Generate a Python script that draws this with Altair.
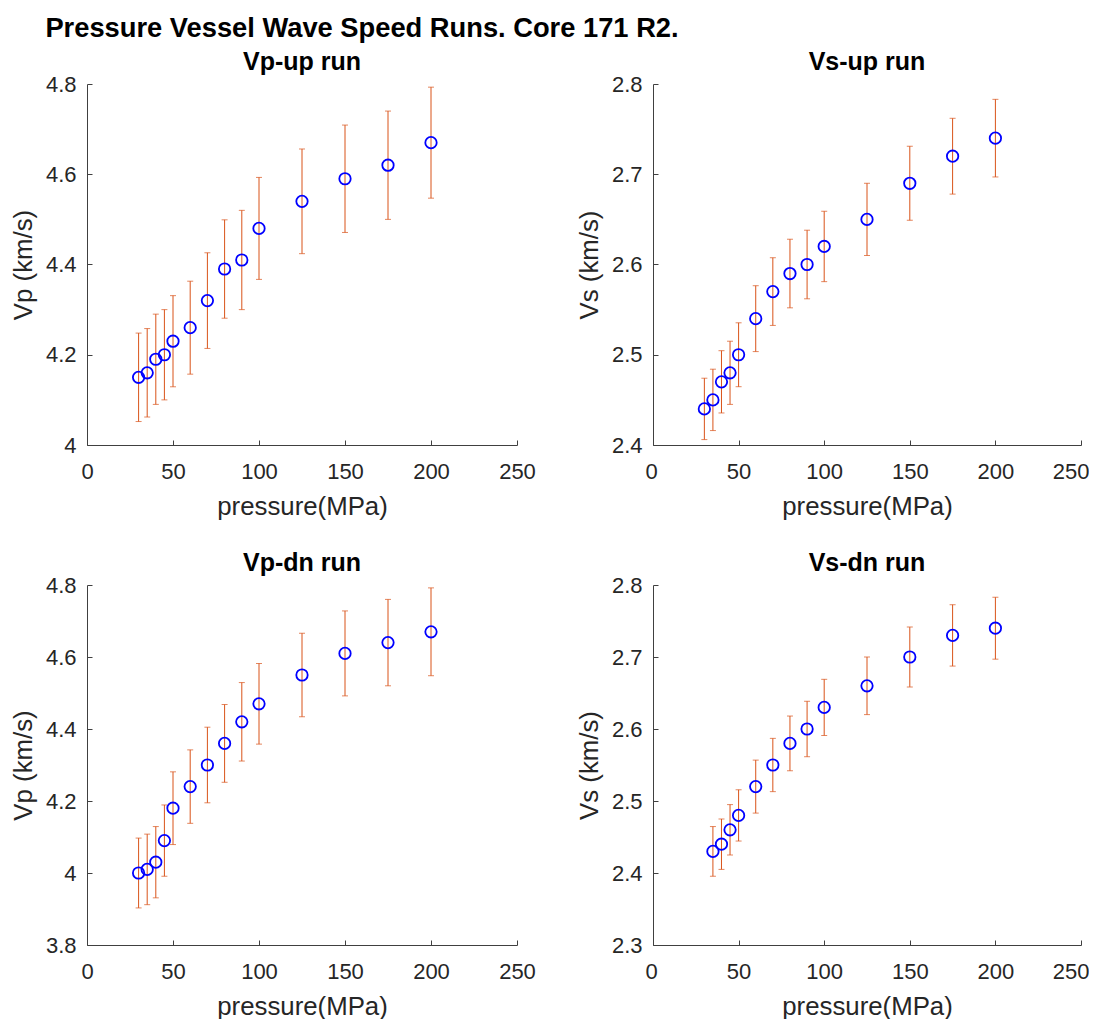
import altair as alt
import pandas as pd

# ---- data ----
P_VP = [30, 35, 40, 45, 50, 60, 70, 80, 90, 100, 125, 150, 175, 200]
P_VS_DN = [35, 40, 45, 50, 60, 70, 80, 90, 100, 125, 150, 175, 200]

VP_UP = [4.15, 4.16, 4.19, 4.20, 4.23, 4.26, 4.32, 4.39, 4.41, 4.48, 4.54, 4.59, 4.62, 4.67]
VP_UP_ERR = [0.098, 0.098, 0.100, 0.100, 0.101, 0.103, 0.106, 0.109, 0.110, 0.113, 0.116, 0.119, 0.120, 0.123]

VS_UP = [2.44, 2.45, 2.47, 2.48, 2.50, 2.54, 2.57, 2.59, 2.60, 2.62, 2.65, 2.69, 2.72, 2.74]
VS_UP_ERR = [0.034, 0.034, 0.0345, 0.035, 0.0354, 0.0365, 0.0375, 0.038, 0.038, 0.039, 0.040, 0.041, 0.042, 0.043]

VP_DN = [4.00, 4.01, 4.03, 4.09, 4.18, 4.24, 4.30, 4.36, 4.42, 4.47, 4.55, 4.61, 4.64, 4.67]
VP_DN_ERR = [0.097, 0.098, 0.099, 0.099, 0.101, 0.102, 0.105, 0.108, 0.109, 0.112, 0.116, 0.118, 0.120, 0.122]

VS_DN = [2.43, 2.44, 2.46, 2.48, 2.52, 2.55, 2.58, 2.60, 2.63, 2.66, 2.70, 2.73, 2.74]
VS_DN_ERR = [0.0345, 0.035, 0.035, 0.0356, 0.0368, 0.037, 0.038, 0.0385, 0.039, 0.040, 0.0415, 0.0426, 0.043]

X_TICKS = [0, 50, 100, 150, 200, 250]
VP_UP_TICKS = [4.0, 4.2, 4.4, 4.6, 4.8]
VS_UP_TICKS = [2.4, 2.5, 2.6, 2.7, 2.8]
VP_DN_TICKS = [3.8, 4.0, 4.2, 4.4, 4.6, 4.8]
VS_DN_TICKS = [2.3, 2.4, 2.5, 2.6, 2.7, 2.8]

MAIN_TITLE = "Pressure Vessel Wave Speed Runs. Core 171 R2."

FONT = "Liberation Sans"
AX = "#262626"
AXLINE = "#404040"
ORANGE = "#D95319"
BLUE = "#0000FF"


def panel(p, v, err, title, ytitle, ydom, yticks, w, h, right_col=False):
    df = pd.DataFrame({"p": p, "v": v, "err": err})
    df["lo"] = df["v"] - df["err"]
    df["hi"] = df["v"] + df["err"]
    base = alt.Chart(df)
    xs = alt.Scale(domain=[0, 250], nice=False, zero=False)
    ys = alt.Scale(domain=ydom, nice=False, zero=False)

    # error bars, carrying inward-pointing tick axes
    rules = base.mark_rule(color=ORANGE, strokeWidth=1).encode(
        x=alt.X("p:Q", scale=xs,
                axis=alt.Axis(orient="top", offset=-h, values=X_TICKS, labels=False,
                              domain=False, ticks=True, tickSize=5, tickColor=AXLINE,
                              tickWidth=1, title=None, grid=False)),
        y=alt.Y("lo:Q", scale=ys,
                axis=alt.Axis(orient="right", offset=-w, values=yticks, labels=False,
                              domain=False, ticks=True, tickSize=5, tickColor=AXLINE,
                              tickWidth=1, title=None, grid=False)),
        y2="hi:Q",
    )
    cap_lo = base.mark_tick(color=ORANGE, orient="horizontal", size=6, thickness=1).encode(
        x=alt.X("p:Q", scale=xs, axis=None), y=alt.Y("lo:Q", scale=ys, axis=None))
    cap_hi = base.mark_tick(color=ORANGE, orient="horizontal", size=6, thickness=1).encode(
        x=alt.X("p:Q", scale=xs, axis=None), y=alt.Y("hi:Q", scale=ys, axis=None))
    flush = dict(labelFlush=True, labelFlushOffset=8) if right_col else dict(labelFlush=False)
    pts = base.mark_point(filled=False, color=BLUE, strokeWidth=1.8, size=130, opacity=1).encode(
        x=alt.X("p:Q", scale=xs,
                axis=alt.Axis(orient="bottom", values=X_TICKS, ticks=False, tickSize=0,
                              labelPadding=16, title="pressure(MPa)",
                              titlePadding=12, format="~r", labelOverlap=False, grid=False,
                              **flush)),
        y=alt.Y("v:Q", scale=ys,
                axis=alt.Axis(orient="left", values=yticks, ticks=False, tickSize=0,
                              labelPadding=11, title=ytitle, titlePadding=9,
                              format="~r", labelOverlap=False, grid=False)),
    )
    return alt.layer(rules, cap_lo, cap_hi, pts).resolve_axis(
        x="independent", y="independent"
    ).properties(
        width=w, height=h,
        title=alt.TitleParams(title, fontSize=25, font=FONT, fontWeight="bold",
                              color="black", anchor="middle", frame="group", offset=-2),
    )


c1 = panel(P_VP, VP_UP, VP_UP_ERR, "Vp-up run", "Vp (km/s)", [4.0, 4.8], VP_UP_TICKS, 430, 361)
c2 = panel(P_VP, VS_UP, VS_UP_ERR, "Vs-up run", "Vs (km/s)", [2.4, 2.8], VS_UP_TICKS, 428, 361, True)
c3 = panel(P_VP, VP_DN, VP_DN_ERR, "Vp-dn run", "Vp (km/s)", [3.8, 4.8], VP_DN_TICKS, 430, 360)
c4 = panel(P_VS_DN, VS_DN, VS_DN_ERR, "Vs-dn run", "Vs (km/s)", [2.3, 2.8], VS_DN_TICKS, 428, 360, True)

chart = alt.concat(
    c1, c2, c3, c4, columns=2, spacing={"row": 140, "column": 136}, bounds="flush"
).properties(
    title=alt.TitleParams(MAIN_TITLE, fontSize=27.3, font=FONT, fontWeight="bold",
                          color="black", anchor="start", dx=35, offset=8),
    padding={"left": 2, "top": 6, "right": 0, "bottom": 0},
).configure_view(stroke=None).configure_axis(
    labelFont=FONT, titleFont=FONT, labelFontSize=22, titleFontSize=25.8,
    titleFontWeight="normal", labelColor=AX, titleColor=AX,
    domainColor=AXLINE, domainWidth=1,
)

chart.save("out.html", embed_options={"renderer": "svg", "actions": False})
